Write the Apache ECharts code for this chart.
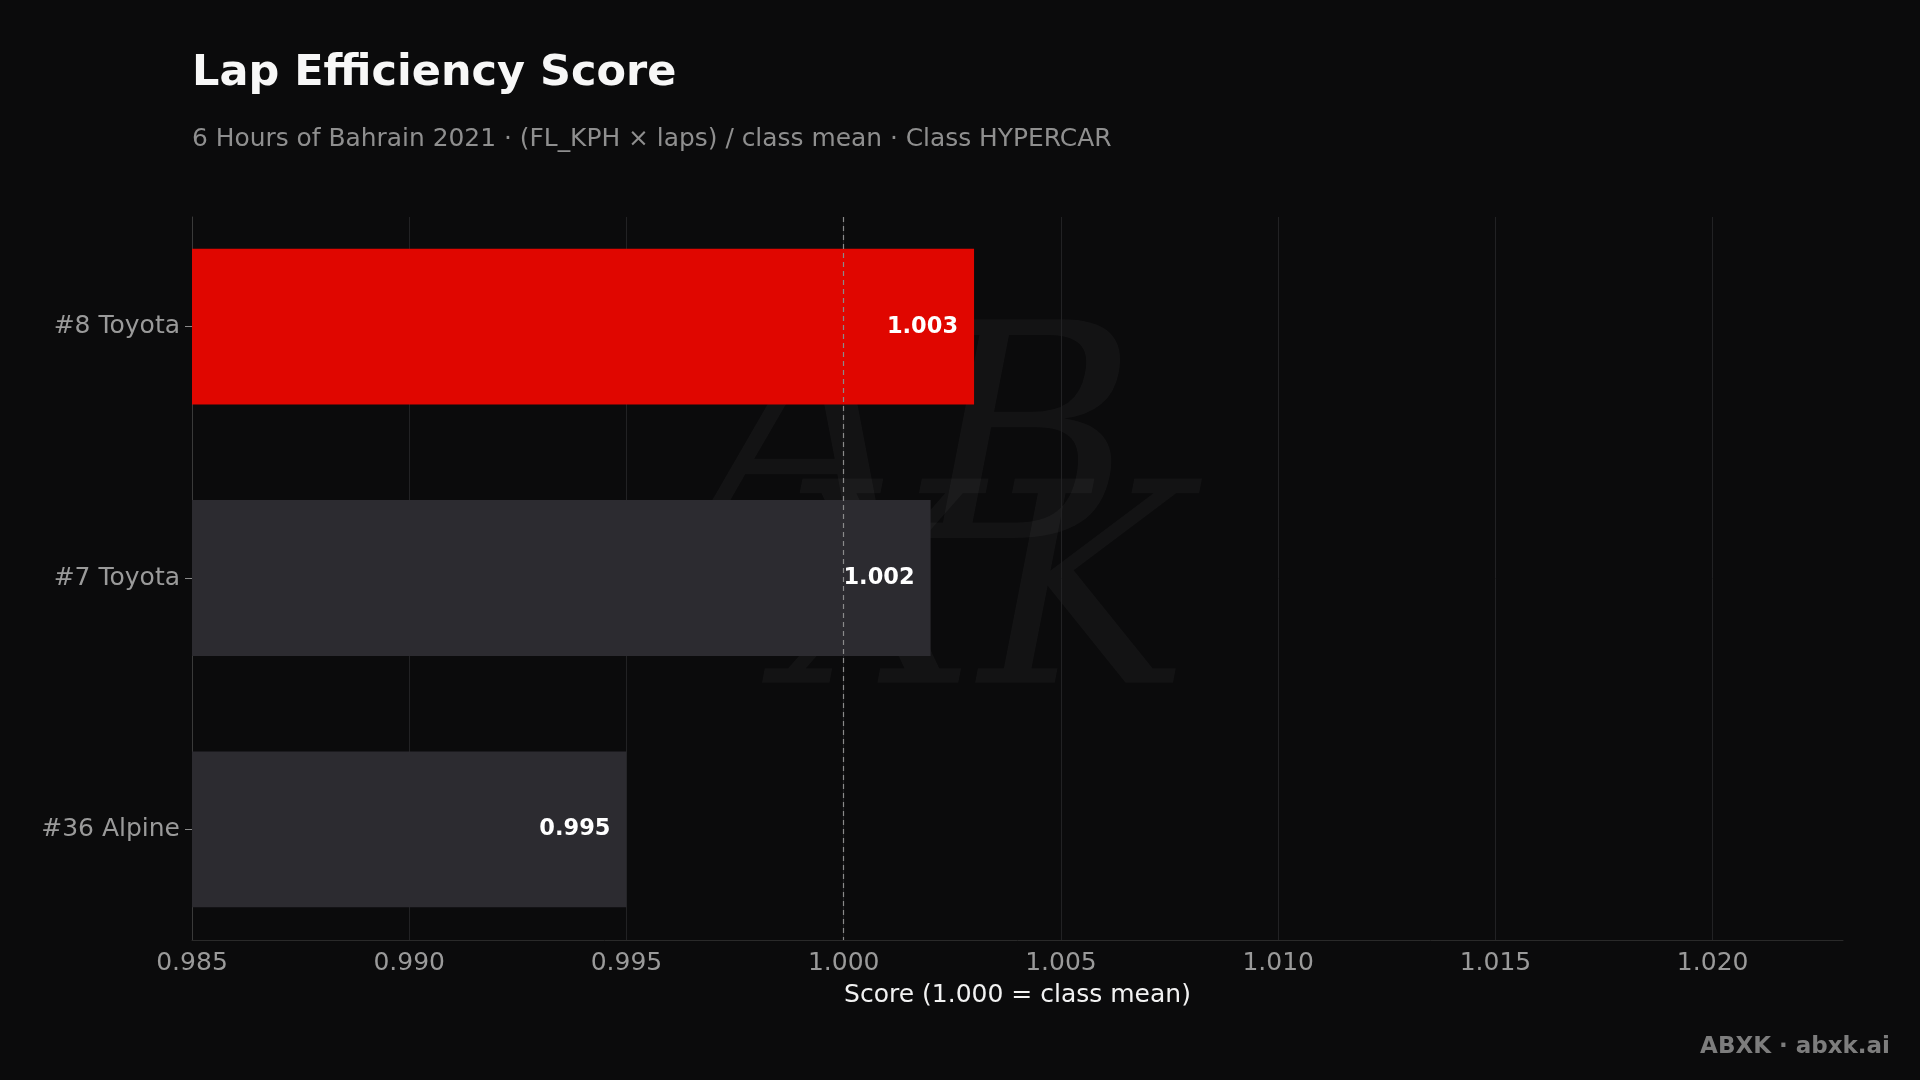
<!DOCTYPE html>
<html>
<head>
<meta charset="utf-8">
<script src="https://cdn.jsdelivr.net/npm/echarts@6/dist/echarts.min.js"></script>
<style>
html,body{margin:0;padding:0;background:#0b0b0c;}
#c{width:1920px;height:1080px;}
</style>
</head>
<body>
<div id="c"></div>
<script>
const categories = ['#8 Toyota', '#7 Toyota', '#36 Alpine'];
const scores = [1.003, 1.002, 0.995];
const barColors = ['#e00600', '#2c2b30', '#2c2b30'];
const classMean = 1.0;
const xMin = 0.985, xMax = 1.023, xStep = 0.005;

const chart = echarts.init(document.getElementById('c'));
const FONT = 'DejaVu Sans';
chart.setOption({
  backgroundColor: '#0b0b0c',
  textStyle: { fontFamily: FONT },
  title: [{
    text: 'Lap Efficiency Score',
    left: 187, top: 47,
    textStyle: { color: '#f7f7f7', fontSize: 43, fontWeight: 'bold', fontFamily: FONT }
  }, {
    text: '6 Hours of Bahrain 2021 · (FL_KPH × laps) / class mean · Class HYPERCAR',
    left: 187, top: 122,
    textStyle: { color: '#8f8f8f', fontSize: 24.9, fontWeight: 'normal', fontFamily: FONT }
  }],
  graphic: [{
    type: 'text', left: 700, top: 310, z: -1,
    style: { text: 'AB', font: 'italic 300px "DejaVu Serif"', fill: 'rgba(255,255,255,0.035)' }
  }, {
    type: 'text', left: 780, top: 470, z: -1,
    style: { text: 'XK', font: 'italic 280px "DejaVu Serif"', fill: 'rgba(255,255,255,0.035)' }
  }, {
    type: 'text', right: 30, top: 1036,
    style: { text: 'ABXK · abxk.ai', font: 'bold 23px "DejaVu Sans"', fill: '#7d7d7d' }
  }],
  grid: [
    { left: 192, right: 77, top: 217, bottom: 140, containLabel: false, outerBoundsMode: 'none' },
    { left: 192, right: 77, top: 201, bottom: 125, containLabel: false, outerBoundsMode: 'none' }
  ],
  xAxis: [{
    gridIndex: 0,
    type: 'value', min: xMin, max: xMax, interval: xStep,
    name: 'Score (1.000 = class mean)', nameLocation: 'middle', nameGap: 43,
    nameTextStyle: { color: '#f2f2f2', fontSize: 25, fontFamily: FONT },
    axisLine: { show: true, lineStyle: { color: '#2a2a2a', width: 1 } },
    axisTick: { show: false },
    axisLabel: { color: '#9a9a9a', fontSize: 25, margin: 11, fontFamily: FONT, showMaxLabel: false,
      formatter: v => v.toFixed(3) },
    splitLine: { show: true, showMaxLine: false, lineStyle: { color: '#222224', width: 1 } }
  }, {
    gridIndex: 1,
    type: 'value', min: xMin, max: xMax, interval: xStep,
    axisLine: { show: false }, axisTick: { show: false }, axisLabel: { show: false },
    splitLine: { show: false }
  }],
  yAxis: [{
    gridIndex: 0,
    type: 'category', data: categories, inverse: true,
    axisLine: { show: true, lineStyle: { color: '#3a3a3a', width: 1 } },
    axisTick: { show: false }, axisLabel: { show: false }, splitLine: { show: false }
  }, {
    gridIndex: 1,
    type: 'category', data: categories, inverse: true,
    axisLine: { show: false },
    axisTick: { show: true, length: 7, alignWithLabel: true, lineStyle: { color: '#8a8a8a' } },
    axisLabel: { color: '#9a9a9a', fontSize: 25, margin: 12, fontFamily: FONT, padding: [4, 0, 0, 0] },
    splitLine: { show: false }
  }],
  series: [{
    type: 'bar',
    xAxisIndex: 1, yAxisIndex: 1,
    data: scores.map((v, i) => ({ value: v, itemStyle: { color: barColors[i] } })),
    barWidth: '62%',
    label: {
      show: true, position: 'insideRight', distance: 16,
      color: '#ffffff', fontWeight: 'bold', fontSize: 22.5, fontFamily: FONT,
      formatter: p => p.value.toFixed(3)
    },
    z: 2
  }, {
    type: 'line',
    xAxisIndex: 0, yAxisIndex: 0,
    data: [],
    markLine: {
      silent: true, symbol: 'none', animation: false,
      label: { show: false },
      lineStyle: { color: '#8a8a8a', type: [5, 4], width: 1.2 },
      data: [{ xAxis: classMean }]
    },
    z: 5
  }],
  animation: false
});
</script>
</body>
</html>
